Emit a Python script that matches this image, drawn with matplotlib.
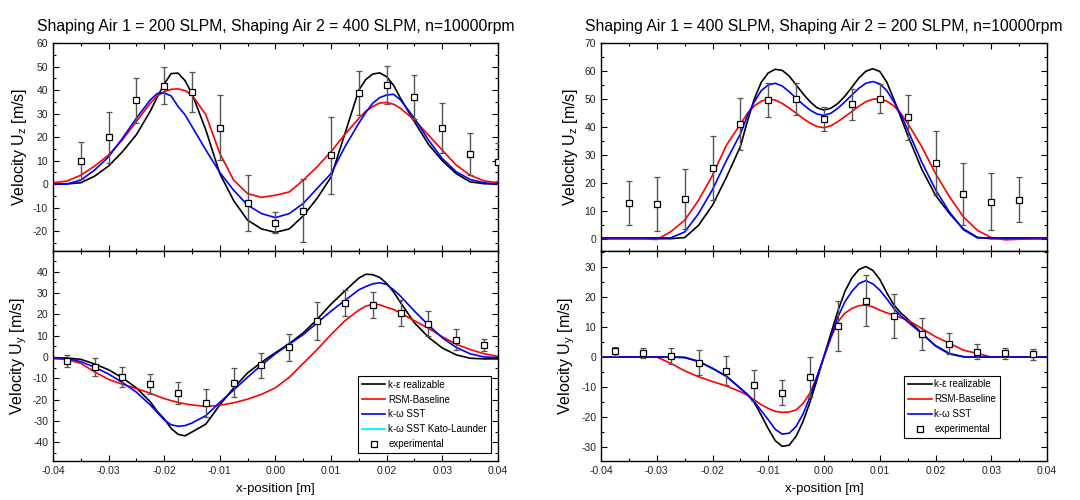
#!/usr/bin/env python3
###
### plot.py
### velocity profiles, two shaping air settings

import numpy as np
import matplotlib
matplotlib.use('AGG')
import matplotlib.pyplot as plt
from matplotlib.lines import Line2D
from matplotlib.ticker import MultipleLocator, FormatStrFormatter

plt.rcParams['font.family'] = ['Liberation Sans', 'DejaVu Sans']
plt.rcParams['mathtext.fontset'] = 'custom'
plt.rcParams['mathtext.rm'] = 'Liberation Sans'
plt.rcParams['axes.unicode_minus'] = False

#
# case 1: SA1 = 200, SA2 = 400
#
# simulation sample positions [m], denser around the peaks
x1_sim = [-0.04, -0.0375, -0.035, -0.0325, -0.03, -0.0275, -0.025, -0.0225,
          -0.02125, -0.02, -0.01875, -0.0175, -0.01625, -0.015,
          -0.0125, -0.01, -0.0075, -0.005, -0.0025, 0.0, 0.0025, 0.005, 0.0075, 0.01, 0.0125,
          0.015, 0.01625, 0.0175, 0.01875, 0.02, 0.02125,
          0.0225, 0.025, 0.0275, 0.03, 0.0325, 0.035, 0.0375, 0.04]

uz1_ke = [0, 0.1, 0.6, 3.4, 7.7, 13.8, 21, 31,
          37, 42.5, 47, 47.2, 44, 38.5,
          23, 4.5, -7, -15.3, -19, -20.5, -19, -13.5, -6, 3, 21.5,
          40, 44.5, 46.8, 47.3, 45.7, 42,
          36.5, 26.5, 17, 10, 4.5, 1, 0.2, 0]
uz1_rsm = [0.6, 1.3, 3.8, 7.7, 12.4, 18.8, 26.6, 34.4,
           37.5, 39.3, 40.3, 40.5, 39.8, 37.9,
           29.5, 13.1, 1.7, -4, -5.6, -4.7, -3.3, 1.7, 7.4, 13.8, 21.2,
           28, 31, 33, 34.5, 34.7, 34,
           32.2, 27.3, 20.9, 14.5, 8.1, 3.8, 1.4, 0.6]
uz1_sst = [0, 0.1, 1.7, 6, 11.6, 19.5, 28, 35.8,
           38.5, 38.8, 37.5, 33, 29.5, 24.5,
           14.5, 5, -2.6, -8.9, -12.5, -14.2, -12.5, -8.2, -1.8, 4.5, 15.9,
           25.9, 30.5, 34.4, 36.8, 37.9, 38.2,
           35.8, 28, 18.8, 10.9, 5.3, 2, 0.6, 0]

uy1_ke = [-0.5, -0.5, -1.1, -3.3, -6, -9.8, -14.5, -21,
          -25.5, -29, -33.5, -36.3, -37, -35.2,
          -31.5, -22.5, -14.5, -7.5, -2.5, 2, 6.3, 11.3, 17.6, 24.8, 31,
          37, 38.8, 38.6, 37.3, 34.5, 30.5,
          25.5, 16, 9.3, 4.2, 1, -0.6, -0.9, -0.9]
uy1_rsm = [-0.8, -1.2, -3, -7, -10.5, -12.8, -14.8, -17,
           -18.3, -19.5, -20.5, -21.3, -22, -22.5,
           -23.2, -22.7, -21.5, -19.8, -17.5, -14.5, -9.5, -3, 3.5, 10.5, 17,
           22, 23.8, 24.7, 24.5, 23.3, 22.3,
           20.5, 17, 13.5, 9.5, 6, 3.5, 1.5, 0.3]
uy1_sst = [-0.3, -0.6, -2.2, -4.8, -8, -12, -16.5, -22.5,
           -26, -29.5, -31.8, -32.5, -32.2, -31,
           -27.5, -21.3, -15.5, -9.5, -3.8, 1.5, 6, 10.5, 16, 21.5, 26.5,
           31.5, 33, 34.3, 34.8, 34, 31.5,
           28.5, 21.5, 15, 9, 4.5, 1.5, 0, -0.3]

xz1_exp = [-0.035, -0.03, -0.025, -0.02, -0.015, -0.01, -0.005, 0.0,
           0.005, 0.01, 0.015, 0.02, 0.025, 0.03, 0.035, 0.04]
uz1_exp = [10, 19.9, 35.6, 41.9, 39.2, 24, -8.1, -16.3, -11.2, 12.2, 38.8, 42.2, 37, 23.9, 12.9, 9.3]
uz1_err = [8, 10.8, 9.4, 7.8, 8.5, 13.8, 11.8, 4.4, 13.3, 16.2, 9.3, 8, 9.2, 10.5, 9, 8]

xy1_exp = [-0.0375, -0.0325, -0.0275, -0.0225, -0.0175, -0.0125, -0.0075, -0.0025,
           0.0025, 0.0075, 0.0125, 0.0175, 0.0225, 0.0275, 0.0325, 0.0375]
uy1_exp = [-1.9, -4.7, -9.4, -12.8, -17, -21.4, -12, -3.9, 4.5, 16.9, 25.2, 24.4, 20.6, 15.5, 8.1, 5.6]
uy1_err = [2.9, 4.2, 4.8, 4.8, 5.2, 6.6, 6.6, 5.8, 6.2, 8.8, 6.2, 6.3, 6.3, 5.9, 4.8, 3]

#
# case 2: SA1 = 400, SA2 = 200
#
x2_sim = [-0.04, -0.0375, -0.035, -0.0325, -0.03, -0.0275, -0.025, -0.0225, -0.02, -0.0175,
          -0.015, -0.01375, -0.0125, -0.01125, -0.01, -0.00875, -0.0075, -0.00625,
          -0.005, -0.00375, -0.0025, -0.00125, 0.0, 0.00125, 0.0025, 0.00375, 0.005,
          0.00625, 0.0075, 0.00875, 0.01, 0.01125, 0.0125, 0.01375, 0.015,
          0.0175, 0.02, 0.0225, 0.025, 0.0275, 0.03, 0.0325, 0.035, 0.0375, 0.04]

uz2_ke = [0, 0, 0, 0, 0, 0, 0.4, 4.8, 12, 22,
          33, 42, 50, 56, 59.3, 60.6, 60.2, 58.2,
          55, 51.8, 49, 46.8, 46, 46.7, 48.4, 51, 54.2,
          57.5, 59.9, 60.8, 59.8, 56, 50, 43.5, 37,
          25, 15.5, 9, 3.5, 0.5, 0, 0, 0, 0, 0]
uz2_rsm = [0, 0, 0, 0, -0.3, 2.5, 6.6, 13.8, 22.7, 33.5,
           41, 44.8, 47.5, 49.2, 49.9, 49.6, 48.4, 46.7,
           44.9, 43, 41.3, 40.1, 39.7, 40.4, 41.9, 43.7, 45.5,
           47.4, 49, 49.9, 50, 49.2, 47.5, 44.8, 41.3,
           33, 23.3, 15, 7.8, 3, 0.4, -0.4, -0.2, 0, 0]
uz2_sst = [0.3, 0.3, 0.3, 0.3, 0.3, 0.3, 2.4, 9, 17.6, 28,
           37.5, 44, 49, 53, 55, 55.6, 54.6, 52.6,
           50.2, 48, 46, 44.6, 44.1, 44.9, 46.7, 49, 51.4,
           53.8, 55.6, 56.2, 55.4, 53, 49, 44.5, 39,
           27.5, 17.5, 9.5, 3.2, 0.3, 0.3, 0.3, 0.3, 0.3, 0.3]

uy2_ke = [0, 0, 0, 0, 0, 0, -0.1, -1.4, -3.8, -6.5,
          -10.5, -12.5, -15.3, -19.5, -24, -28, -29.9, -29.5,
          -26.5, -21.5, -15, -7.5, 0.3, 8, 15.5, 22, 26.5,
          29.3, 30.3, 29, 26, 21.5, 17.5, 14.8, 12.7,
          8, 3.8, 1.2, 0.1, 0, 0, 0, 0, 0, 0]
uy2_rsm = [0, 0, 0, 0, 0, -2.1, -4.6, -6.6, -8.2, -9.7,
           -11.6, -12.8, -14.4, -16, -17.2, -18.2, -18.5, -18.4,
           -17.7, -15.5, -12, -6.5, 0, 6.5, 11.8, 14.7, 16.3,
           17.2, 17.4, 16.8, 15.7, 14.8, 14, 13.2, 12.4,
           9.6, 6.8, 4.6, 2.3, 1.2, 0, 0, 0, 0, 0]
uy2_sst = [0, 0, 0, 0, 0, 0, -0.2, -1.5, -3.8, -6.4,
           -10.5, -12.5, -15, -18, -21, -24.2, -25.8, -25.5,
           -23.2, -19, -13.3, -6.5, 0.3, 7, 13.5, 18.5, 22,
           24.6, 25.6, 24.5, 22.4, 19.5, 16.3, 13.8, 11.8,
           7.9, 3.7, 1, 0.1, 0, 0, 0, 0, 0, 0]

xz2_exp = [-0.035, -0.03, -0.025, -0.02, -0.015, -0.01, -0.005, 0.0,
           0.005, 0.01, 0.015, 0.02, 0.025, 0.03, 0.035]
uz2_exp = [12.8, 12.4, 14.2, 25.4, 41, 49.6, 50, 42.9, 48.1, 50.1, 43.4, 27.2, 15.9, 13.3, 14]
uz2_err = [8, 9.6, 10.8, 11.5, 9.4, 6.2, 5.7, 4.2, 5.6, 5.3, 8, 11.5, 11, 10.2, 7.9]

xy2_exp = [-0.0375, -0.0325, -0.0275, -0.0225, -0.0175, -0.0125, -0.0075, -0.0025,
           0.0025, 0.0075, 0.0125, 0.0175, 0.0225, 0.0275, 0.0325, 0.0375]
uy2_exp = [1.9, 1.4, 0.3, -1.9, -4.6, -9.5, -11.9, -6.7, 10.4, 18.8, 13.8, 7.8, 4.5, 1.8, 1.3, 0.9]
uy2_err = [1.6, 1.6, 2.6, 4.1, 4.9, 5.1, 4.3, 6.7, 8.4, 8.5, 7.4, 5.4, 3.6, 2.4, 1.8, 1.8]

titles = ['Shaping Air 1 = 200 SLPM, Shaping Air 2 = 400 SLPM, n=10000rpm',
          'Shaping Air 1 = 400 SLPM, Shaping Air 2 = 200 SLPM, n=10000rpm']
model_names = ['k-\u03b5 realizable', 'RSM-Baseline', 'k-\u03c9 SST']
model_colors = ['black', '#ff0000', '#0000ff']
kato_name = 'k-\u03c9 SST Kato-Launder'
exp_name = 'experimental'


#
# axis style
#
def style_axes(ax, ylim, ystep, show_x=True):
    ax.set_xlim(-0.04, 0.04)
    ax.set_ylim(*ylim)
    ax.xaxis.set_major_locator(MultipleLocator(0.01))
    ax.xaxis.set_minor_locator(MultipleLocator(0.005))
    ax.yaxis.set_major_locator(MultipleLocator(ystep))
    ax.yaxis.set_minor_locator(MultipleLocator(ystep / 2))
    ax.xaxis.set_major_formatter(FormatStrFormatter('%.2f'))
    ax.yaxis.set_major_formatter(FormatStrFormatter('%d'))
    ax.tick_params(which='both', direction='in', top=True, right=True,
                   width=0.8, labelsize=7.5, labelcolor='#222222')
    ax.tick_params(which='major', length=4.5)
    ax.tick_params(which='minor', length=2.5)
    if not show_x:
        ax.tick_params(labelbottom=False)
    for s in ax.spines.values():
        s.set_linewidth(1.0)


#
# one panel: three models + experiment
#
def plot_panel(ax, x_sim, curves, x_exp, y_exp, err):
    handles = []
    for y, c, name in zip(curves, model_colors, model_names):
        h, = ax.plot(x_sim, y, color=c, lw=1.2, label=name)
        handles.append(h)
    cont = ax.errorbar(x_exp, y_exp, yerr=err, fmt='s', ms=4.2, mfc='white',
                       mec='black', mew=0.9, ecolor='#555555', elinewidth=1.0,
                       capsize=2.5, capthick=1.0, zorder=5)
    for cap in cont[1]:
        cap.set_color('#222222')
    return handles, cont[0]


fig = plt.figure(figsize=(10.8, 5), dpi=100)

ax_lt = fig.add_axes([0.049, 0.498, 0.412, 0.416])
ax_lb = fig.add_axes([0.049, 0.078, 0.412, 0.420])
ax_rt = fig.add_axes([0.5565, 0.498, 0.413, 0.416])
ax_rb = fig.add_axes([0.5565, 0.078, 0.413, 0.420])

plot_panel(ax_lt, x1_sim, [uz1_ke, uz1_rsm, uz1_sst], xz1_exp, uz1_exp, uz1_err)
h1, e1 = plot_panel(ax_lb, x1_sim, [uy1_ke, uy1_rsm, uy1_sst], xy1_exp, uy1_exp, uy1_err)
plot_panel(ax_rt, x2_sim, [uz2_ke, uz2_rsm, uz2_sst], xz2_exp, uz2_exp, uz2_err)
h2, e2 = plot_panel(ax_rb, x2_sim, [uy2_ke, uy2_rsm, uy2_sst], xy2_exp, uy2_exp, uy2_err)

style_axes(ax_lt, (-28.4, 60), 10, show_x=False)
style_axes(ax_lb, (-48.8, 49.7), 10)
style_axes(ax_rt, (-4.4, 70), 10, show_x=False)
style_axes(ax_rb, (-34.8, 35.5), 10)

for ax, t in zip([ax_lt, ax_rt], titles):
    ax.set_title(t, fontsize=11.3, pad=9)

for ax in [ax_lt, ax_rt]:
    ax.set_ylabel(r'Velocity U$_\mathregular{z}$ [m/s]', fontsize=11.5, labelpad=3)
for ax in [ax_lb, ax_rb]:
    ax.set_ylabel(r'Velocity U$_\mathregular{y}$ [m/s]', fontsize=11.5, labelpad=3)
    ax.set_xlabel('x-position [m]', fontsize=9.5, labelpad=5)

leg_kw = dict(loc='lower right', fontsize=7, frameon=True, fancybox=False,
              framealpha=1, edgecolor='black', borderpad=0.4, labelspacing=0.5,
              handlelength=2.4, handletextpad=0.3, borderaxespad=0)

kato = Line2D([], [], color='cyan', lw=1.5)
exp_l = Line2D([], [], ls='none', marker='s', ms=4.2, mfc='white', mec='black', mew=0.9)

leg = ax_lb.legend(h1 + [kato, exp_l], model_names + [kato_name, exp_name],
                   bbox_to_anchor=(0.984, 0.038), **leg_kw)
leg.get_frame().set_linewidth(0.8)
leg = ax_rb.legend(h2 + [exp_l], model_names + [exp_name],
                   bbox_to_anchor=(0.895, 0.11), **leg_kw)
leg.get_frame().set_linewidth(0.8)

fig.savefig('out.png', dpi=100)
plt.close(fig)
